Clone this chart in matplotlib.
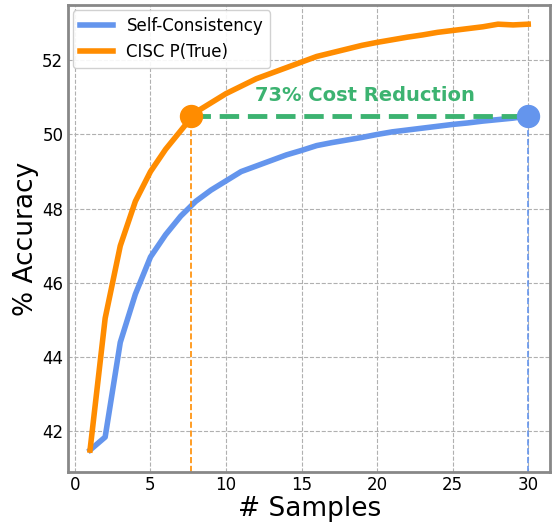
import numpy as np
import matplotlib.pyplot as plt

# accuracy vs number of samples
samples = [1, 2, 3, 4, 5, 6, 7, 8, 9, 10, 11, 12, 13, 14, 15, 16, 17, 18, 19, 20,
           21, 22, 23, 24, 25, 26, 27, 28, 29, 30]
sc_acc = [41.5, 41.85, 44.4, 45.7, 46.7, 47.3, 47.8, 48.2, 48.5, 48.75, 49.0, 49.15,
          49.3, 49.45, 49.57, 49.7, 49.78, 49.85, 49.92, 50.0, 50.07, 50.12, 50.17,
          50.22, 50.27, 50.31, 50.36, 50.4, 50.44, 50.5]
cisc_acc = [41.5, 45.05, 47.0, 48.2, 49.0, 49.6, 50.1, 50.6, 50.85, 51.1, 51.3, 51.5,
            51.65, 51.8, 51.95, 52.1, 52.2, 52.3, 52.4, 52.48, 52.55, 52.62, 52.68,
            52.75, 52.8, 52.85, 52.9, 52.97, 52.95, 52.97]

match_x = 7.7
target_acc = 50.5
label_text = "73% Cost Reduction"

fig, ax = plt.subplots(figsize=(5.54, 5.24), dpi=100)

ax.plot(samples, sc_acc, color="cornflowerblue", lw=4, label="Self-Consistency")
ax.plot(samples, cisc_acc, color="darkorange", lw=4, label="CISC P(True)")

ax.plot([match_x, samples[-1]], [target_acc, target_acc], color="mediumseagreen",
        lw=3.5, ls=(0, (4, 1.8)), zorder=3)
ax.scatter([match_x], [target_acc], s=250, color="darkorange", zorder=4)
ax.scatter([samples[-1]], [target_acc], s=250, color="cornflowerblue", zorder=4)

ax.text((match_x + samples[-1]) / 2 + 0.35, target_acc + 0.28, label_text,
        color="mediumseagreen", fontsize=14, fontweight="bold", ha="center", va="bottom")

ax.set_ylim(40.92, 53.48)
ax.set_xlim(-0.45, 31.45)
y0 = ax.get_ylim()[0]
ax.plot([match_x, match_x], [y0, target_acc], color="darkorange", lw=1.2, ls="--", zorder=2)
ax.plot([samples[-1], samples[-1]], [y0, target_acc], color="cornflowerblue", lw=1.2,
        ls="--", zorder=2)

ax.set_xticks([0, 5, 10, 15, 20, 25, 30])
ax.set_yticks([42, 44, 46, 48, 50, 52])
ax.tick_params(labelsize=12, length=0, pad=3.5)
ax.grid(True, ls="--", color="#b0b0b0", lw=0.8)
ax.set_axisbelow(True)
for s in ax.spines.values():
    s.set_color("#888888")
    s.set_linewidth(2)

ax.set_xlabel("# Samples", fontsize=19, labelpad=1)
ax.set_ylabel("% Accuracy", fontsize=19, labelpad=2)
ax.legend(loc="upper left", fontsize=12, framealpha=0.9, borderaxespad=0.3)

fig.subplots_adjust(left=0.123, right=0.993, top=0.99, bottom=0.1)
fig.savefig("out.png")
